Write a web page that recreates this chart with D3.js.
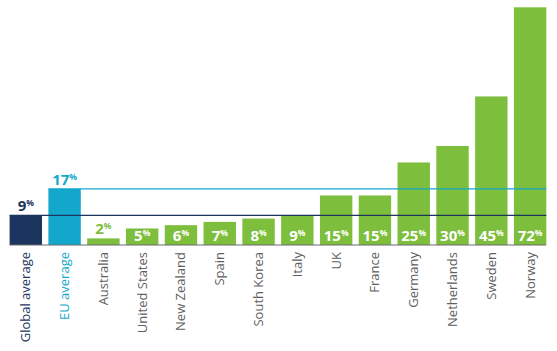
<!DOCTYPE html>
<html><head><meta charset="utf-8">
<script src="https://cdn.jsdelivr.net/npm/d3@7"></script>
<style>body{margin:0;background:#fff}</style>
</head><body>
<svg id="c" width="557" height="351"></svg>
<script>
const categories = ["Global average","EU average","Australia","United States","New Zealand","Spain","South Korea","Italy","UK","France","Germany","Netherlands","Sweden","Norway"];
const values = [9,17,2,5,6,7,8,9,15,15,25,30,45,72];
const kinds = ["global","eu","c","c","c","c","c","c","c","c","c","c","c","c"];
const colors = {global:"#1c355e", eu:"#13a8cb", c:"#7dbe3d"};
const labelColors = {global:"#1c355e", eu:"#13a8cb", c:"#5e5e5e"};

const svg = d3.select("#c");
const x = d3.scaleBand().domain(categories).range([6.4,549.5]).paddingInner(0.165).paddingOuter(0.0825);
const y = d3.scaleLinear().domain([0,72]).range([245,7.3]);
const font = "'Open Sans', sans-serif";

// bars
svg.selectAll("rect.bar").data(categories).join("rect")
  .attr("x", d=>x(d)).attr("width", x.bandwidth())
  .attr("y", (d,i)=>y(values[i])).attr("height",(d,i)=>y(0)-y(values[i]))
  .attr("fill",(d,i)=>colors[kinds[i]]);

// reference lines
const xEnd = x("Norway")+x.bandwidth();
svg.append("line").attr("x1",x("Global average")).attr("x2",xEnd)
  .attr("y1",y(values[0])).attr("y2",y(values[0])).attr("stroke","#1c355e").attr("stroke-width",1.3);
svg.append("line").attr("x1",x("EU average")).attr("x2",xEnd)
  .attr("y1",y(values[1])).attr("y2",y(values[1])).attr("stroke","#13a8cb").attr("stroke-width",1.3);

// baseline axis
const xAxis = d3.axisBottom(x).tickSize(0).tickFormat("");
const ax = svg.append("g").attr("transform",`translate(0,${y(0)})`).call(xAxis);
ax.select(".domain").attr("stroke","#6b6b6b").attr("stroke-width",1.2)
  .attr("d",`M${x("Global average")},0H${xEnd}`);

// value labels
const vl = svg.selectAll("text.val").data(categories).join("text")
  .attr("text-anchor","middle")
  .attr("font-family",font).attr("font-weight","bold")
  .attr("x",d=>x(d)+x.bandwidth()/2)
  .attr("y",(d,i)=>{
    const inside = kinds[i]==="c" && values[i]>=5;
    return inside ? 241 : y(values[i])-4;
  })
  .attr("fill",(d,i)=>{
    const inside = kinds[i]==="c" && values[i]>=5;
    if(inside) return "#ffffff";
    return colors[kinds[i]];
  });
vl.append("tspan").attr("font-size",15).text((d,i)=>values[i]);
vl.append("tspan").attr("font-size",8.5).attr("dy",-5).text("%");

// category labels
svg.selectAll("text.cat").data(categories).join("text")
  .attr("transform",d=>`translate(${x(d)+x.bandwidth()/2+4.5},252) rotate(-90)`)
  .attr("text-anchor","end")
  .attr("font-family",font).attr("font-size",13)
  .attr("fill",(d,i)=>labelColors[kinds[i]])
  .text(d=>d);
</script>
</body></html>
